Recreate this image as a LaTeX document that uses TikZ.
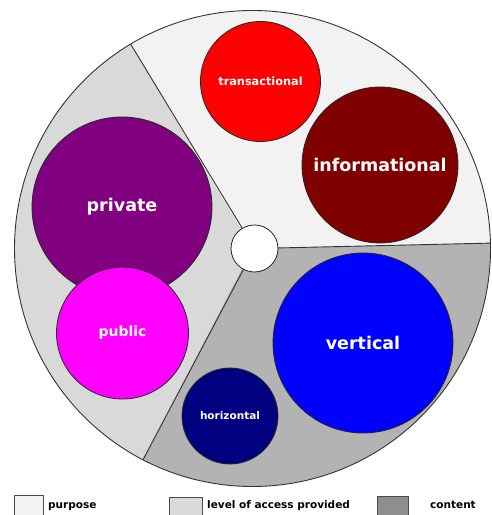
\documentclass[tikz,border=0pt]{standalone}
\usepackage{fontspec}
\setmainfont{DejaVu Sans}
\definecolor{purposegray}{HTML}{F2F2F2}
\definecolor{accessgray}{HTML}{D9D9D9}
\definecolor{contentgray}{HTML}{B3B3B3}
\definecolor{contentkey}{HTML}{8E8E8E}
\definecolor{redfill}{HTML}{FF0000}
\definecolor{maroonfill}{HTML}{800000}
\definecolor{purplefill}{HTML}{800080}
\definecolor{magentafill}{HTML}{FF00FF}
\definecolor{bluefill}{HTML}{0000FF}
\definecolor{navyfill}{HTML}{000080}
\tikzset{
	bubble/.style={circle,draw=black!85,line width=0.8pt,inner sep=0pt,text=white,font=\bfseries},
	keybox/.style={draw=black!70,line width=0.8pt,inner sep=0pt,anchor=north west,minimum width=29pt,minimum height=26pt},
	keytext/.style={anchor=base west,inner sep=0pt,font=\bfseries\fontsize{10.5}{12}\selectfont}
}
\newcommand{\bsize}[1]{\fontsize{#1}{#1}\selectfont}
\begin{document}
\begin{tikzpicture}[x=1pt,y=1pt]
	\useasboundingbox (0,0) rectangle (491,515);
	\coordinate (c) at (252.5,266.5);
	\coordinate (h) at (254.5,266.5);
	% sectors
	\fill[purposegray] (c) -- ++(1.3:238) arc[start angle=1.3,end angle=120.8,radius=238] -- cycle;
	\fill[accessgray] (c) -- ++(120.8:238) arc[start angle=120.8,end angle=242.6,radius=238] -- cycle;
	\fill[contentgray] (c) -- ++(242.6:238) arc[start angle=242.6,end angle=361.3,radius=238] -- cycle;
	\draw[black!80,line width=0.9pt] (c) circle[radius=238];
	\path (c) ++(1.3:238) coordinate (s1);
	\path (c) ++(120.8:238) coordinate (s2);
	\path (c) ++(242.6:238) coordinate (s3);
	\draw[black!80,line width=0.9pt] (h) -- (s1) (h) -- (s2) (h) -- (s3);
	% bubbles
	\node[bubble,fill=redfill,minimum size=120pt,font=\bfseries\bsize{11.3}] (transactional) at (260.5,433.5) {transactional};
	\node[bubble,fill=maroonfill,minimum size=156pt,font=\bfseries\bsize{17.5}] (informational) at (380,350) {informational};
	\node[bubble,fill=purplefill,minimum size=180pt,font=\bfseries\bsize{17.5}] (private) at (122,308) {private};
	\node[bubble,fill=magentafill,minimum size=132pt,font=\bfseries\bsize{14}] (public) at (122.5,182) {public};
	\node[bubble,fill=bluefill,minimum size=180pt,font=\bfseries\bsize{17.5}] (vertical) at (363,172) {vertical};
	\node[bubble,fill=navyfill,minimum size=96pt,font=\bfseries\bsize{10.5}] (horizontal) at (230,99) {horizontal};
	\node[bubble,fill=white,minimum size=47pt] (hub) at (h) {};
	% key
	\node[keybox,fill=purposegray] (purposekey) at (14,20) {};
	\node[keytext] (purposetext) at (48,6) {purpose};
	\node[keybox,fill=accessgray,minimum width=33pt] (accesskey) at (169,18) {};
	\node[keytext] (accesstext) at (207,6) {level of access provided};
	\node[keybox,fill=contentkey,minimum width=31pt] (contentkey) at (377,19) {};
	\node[keytext] (contenttext) at (430,6) {content};
\end{tikzpicture}
\end{document}
